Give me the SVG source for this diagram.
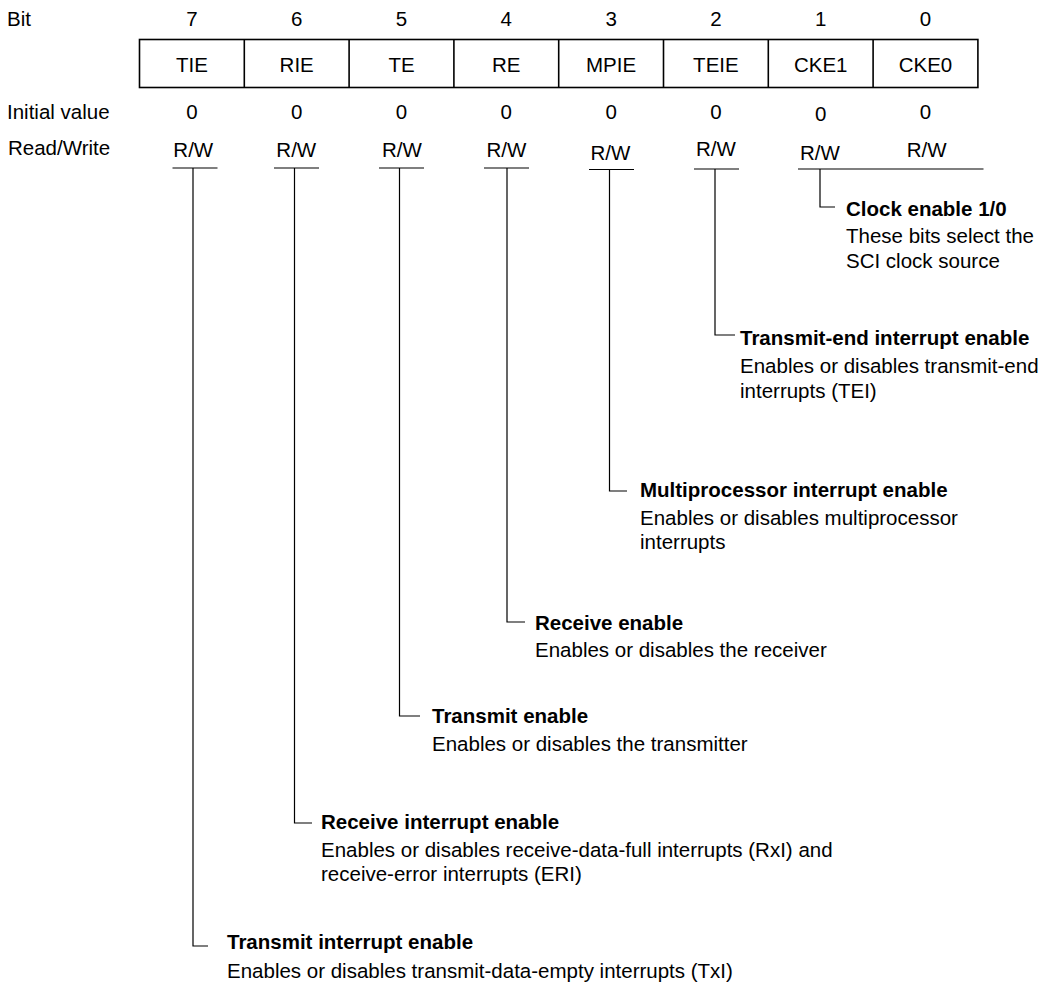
<svg xmlns="http://www.w3.org/2000/svg" width="1055" height="982" viewBox="0 0 1055 982">
<style>
text{font-family:"Liberation Sans",Arial,sans-serif;font-size:20.5px;fill:#000}
.c{text-anchor:middle}
.b{font-weight:bold}
.box{fill:none;stroke:#000;stroke-width:1.6}
.ln{fill:none;stroke:#000;stroke-width:1.2}
</style>
<rect width="1055" height="982" fill="#fff"/>
<g id="header">
<text x="7" y="26">Bit</text>
<text x="7" y="119">Initial value</text>
<text x="8" y="155">Read/Write</text>
</g>
<g id="register">
<rect class="box" x="139.5" y="39.5" width="838.4" height="48"/>
<line class="box" x1="244.3" y1="39.5" x2="244.3" y2="87.5"/>
<line class="box" x1="349.1" y1="39.5" x2="349.1" y2="87.5"/>
<line class="box" x1="453.9" y1="39.5" x2="453.9" y2="87.5"/>
<line class="box" x1="558.7" y1="39.5" x2="558.7" y2="87.5"/>
<line class="box" x1="663.5" y1="39.5" x2="663.5" y2="87.5"/>
<line class="box" x1="768.3" y1="39.5" x2="768.3" y2="87.5"/>
<line class="box" x1="873.1" y1="39.5" x2="873.1" y2="87.5"/>
</g>
<g id="bit7"><text class="c" x="192" y="26">7</text><text class="c" x="192" y="71.5">TIE</text><text class="c" x="192" y="119">0</text><text class="c" x="193.3" y="156.5">R/W</text></g>
<g id="bit6"><text class="c" x="296.7" y="26">6</text><text class="c" x="296.7" y="71.5">RIE</text><text class="c" x="296.7" y="119">0</text><text class="c" x="296.3" y="156.5">R/W</text></g>
<g id="bit5"><text class="c" x="401.5" y="26">5</text><text class="c" x="401.5" y="71.5">TE</text><text class="c" x="401.5" y="119">0</text><text class="c" x="402" y="156.5">R/W</text></g>
<g id="bit4"><text class="c" x="506.3" y="26">4</text><text class="c" x="506.3" y="71.5">RE</text><text class="c" x="506.3" y="119">0</text><text class="c" x="506.5" y="156.5">R/W</text></g>
<g id="bit3"><text class="c" x="611.1" y="26">3</text><text class="c" x="611.1" y="71.5">MPIE</text><text class="c" x="611.1" y="119">0</text><text class="c" x="610.5" y="159.5">R/W</text></g>
<g id="bit2"><text class="c" x="715.9" y="26">2</text><text class="c" x="715.9" y="71.5">TEIE</text><text class="c" x="715.9" y="119">0</text><text class="c" x="716" y="156">R/W</text></g>
<g id="bit1"><text class="c" x="820.7" y="26">1</text><text class="c" x="820.7" y="71.5">CKE1</text><text class="c" x="820.7" y="121">0</text><text class="c" x="820" y="159.5">R/W</text></g>
<g id="bit0"><text class="c" x="925.5" y="26">0</text><text class="c" x="925.5" y="71.5">CKE0</text><text class="c" x="925.5" y="119">0</text><text class="c" x="926.7" y="157">R/W</text></g>
<g id="connectors">
<line class="ln" x1="172.5" y1="168" x2="217.5" y2="168"/>
<polyline class="ln" points="193,168 193,946 208,946"/>
<line class="ln" x1="274" y1="168" x2="319" y2="168"/>
<polyline class="ln" points="294.5,168 294.5,823 312,823"/>
<line class="ln" x1="379" y1="168" x2="424" y2="168"/>
<polyline class="ln" points="399.5,168 399.5,716 420,716"/>
<line class="ln" x1="484" y1="168" x2="529" y2="168"/>
<polyline class="ln" points="507,168 507,622 525,622"/>
<line class="ln" x1="589" y1="169.5" x2="634" y2="169.5"/>
<polyline class="ln" points="609.5,169.5 609.5,491 627,491"/>
<line class="ln" x1="694" y1="169" x2="739" y2="169"/>
<polyline class="ln" points="715,169 715,335 735,335"/>
<line class="ln" x1="798" y1="169" x2="983.5" y2="169"/>
<polyline class="ln" points="820,169 820,207 835,207"/>
</g>
<g id="desc-cke">
<text class="b" x="846" y="216">Clock enable 1/0</text>
<text x="846" y="243">These bits select the</text>
<text x="846" y="268">SCI clock source</text>
</g>
<g id="desc-teie">
<text class="b" x="740" y="345">Transmit-end interrupt enable</text>
<text x="740" y="373">Enables or disables transmit-end</text>
<text x="740" y="398">interrupts (TEI)</text>
</g>
<g id="desc-mpie">
<text class="b" x="640" y="497">Multiprocessor interrupt enable</text>
<text x="640" y="525">Enables or disables multiprocessor</text>
<text x="640" y="549">interrupts</text>
</g>
<g id="desc-re">
<text class="b" x="535" y="630">Receive enable</text>
<text x="535" y="657">Enables or disables the receiver</text>
</g>
<g id="desc-te">
<text class="b" x="432" y="723">Transmit enable</text>
<text x="432" y="751">Enables or disables the transmitter</text>
</g>
<g id="desc-rie">
<text class="b" x="321" y="829">Receive interrupt enable</text>
<text x="321" y="857">Enables or disables receive-data-full interrupts (RxI) and</text>
<text x="321" y="881">receive-error interrupts (ERI)</text>
</g>
<g id="desc-tie">
<text class="b" x="227" y="949">Transmit interrupt enable</text>
<text x="227" y="978">Enables or disables transmit-data-empty interrupts (TxI)</text>
</g>
</svg>
